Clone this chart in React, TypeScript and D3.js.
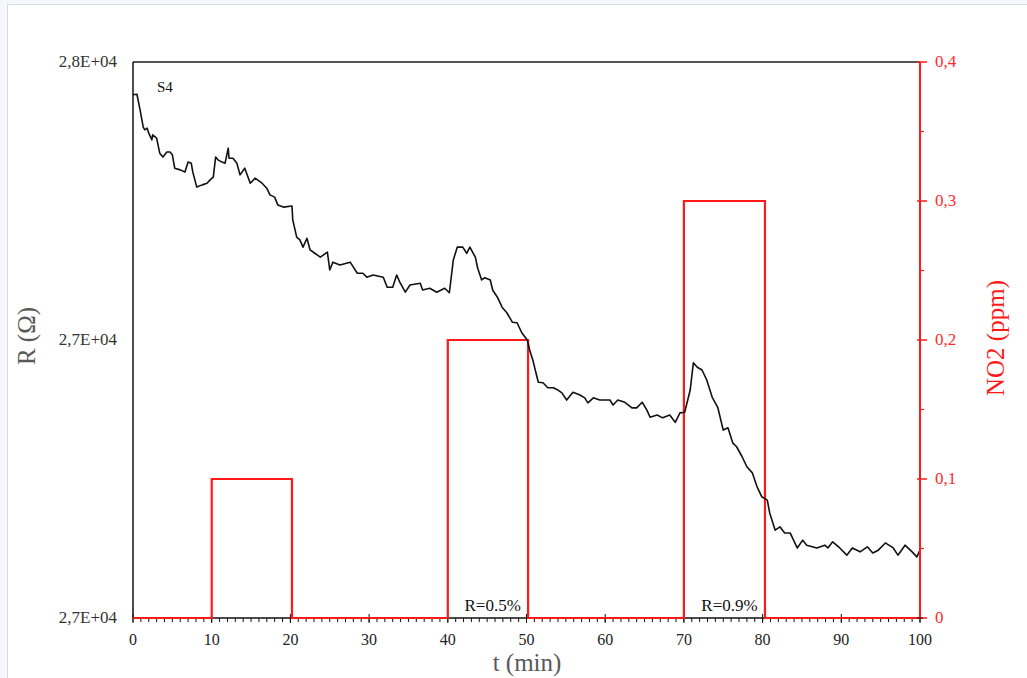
import React from 'react';
import * as d3 from 'd3';

// resistance of sample S4 (ohm) against time (min)
const timeR = [0, 0.5, 0.9, 1.3, 1.5, 1.8, 2.0, 2.4, 2.5, 3.0, 3.4, 3.8, 4.3, 4.7, 5.0, 5.3, 6.0, 6.6, 7.0, 7.4, 7.6, 8.1, 8.8, 9.4, 9.8, 10.2, 10.5, 10.8, 11.3, 11.7, 12.1, 12.2, 12.7, 13.2, 13.6, 14.2, 14.9, 15.5, 16.4, 17.0, 17.4, 18.0, 18.4, 19.1, 20.2, 20.3, 20.8, 21.2, 21.6, 22.1, 22.5, 23.1, 23.8, 24.7, 25.0, 25.4, 26.3, 27.6, 28.0, 28.5, 29.2, 29.7, 30.5, 31.8, 32.3, 33.0, 33.5, 33.9, 34.6, 35.2, 36.5, 36.8, 37.7, 38.6, 39.6, 40.2, 40.7, 41.2, 41.9, 42.4, 42.8, 43.5, 43.8, 44.3, 44.7, 45.4, 45.7, 46.3, 46.9, 47.5, 48.2, 48.8, 49.4, 50.1, 50.4, 50.8, 51.5, 52.1, 52.7, 53.4, 54.0, 54.5, 55.1, 55.9, 56.8, 57.4, 57.8, 58.5, 59.3, 60.6, 61.0, 61.6, 62.5, 63.4, 64.0, 64.7, 65.3, 65.7, 66.6, 67.3, 68.2, 68.9, 69.5, 70.1, 70.8, 71.2, 71.7, 72.3, 72.9, 73.6, 74.3, 75.0, 75.6, 76.2, 76.7, 77.4, 78.0, 78.7, 79.3, 79.9, 80.6, 80.9, 81.6, 82.2, 82.8, 83.5, 84.4, 85.1, 85.6, 86.9, 87.9, 88.3, 88.9, 89.8, 90.7, 91.4, 92.4, 93.3, 94.0, 94.7, 95.6, 96.6, 97.2, 98.1, 99.0, 99.6, 100];
const resistance = [27941, 27942, 27914, 27883, 27878, 27881, 27872, 27860, 27869, 27863, 27836, 27829, 27838, 27838, 27833, 27809, 27806, 27802, 27820, 27818, 27802, 27775, 27779, 27782, 27788, 27793, 27829, 27824, 27820, 27818, 27845, 27827, 27827, 27818, 27797, 27809, 27782, 27791, 27782, 27773, 27761, 27757, 27743, 27739, 27741, 27716, 27685, 27680, 27667, 27683, 27662, 27656, 27649, 27658, 27626, 27640, 27635, 27640, 27631, 27620, 27620, 27613, 27617, 27613, 27595, 27595, 27617, 27604, 27586, 27599, 27602, 27590, 27593, 27586, 27593, 27585, 27644, 27667, 27667, 27656, 27667, 27649, 27629, 27608, 27612, 27608, 27590, 27577, 27559, 27549, 27532, 27531, 27513, 27500, 27482, 27464, 27424, 27423, 27414, 27414, 27410, 27405, 27392, 27406, 27401, 27396, 27387, 27396, 27392, 27392, 27383, 27392, 27388, 27378, 27378, 27388, 27374, 27361, 27365, 27360, 27365, 27352, 27369, 27370, 27410, 27459, 27451, 27446, 27428, 27397, 27379, 27338, 27342, 27315, 27308, 27290, 27272, 27261, 27236, 27218, 27212, 27189, 27158, 27164, 27153, 27153, 27126, 27140, 27131, 27126, 27131, 27126, 27137, 27126, 27113, 27126, 27119, 27128, 27117, 27122, 27135, 27126, 27113, 27131, 27119, 27110, 27122];

// NO2 pulses (ppm)
const timeGas = [0, 10, 10, 20.2, 20.2, 40, 40, 50.2, 50.2, 70, 70, 80.3, 80.3, 100];
const no2 = [0, 0, 0.1, 0.1, 0, 0, 0.2, 0.2, 0, 0, 0.3, 0.3, 0, 0];

const leftTicks = [27000, 27500, 28000];
const leftTickLabels = ['2,7E+04', '2,7E+04', '2,8E+04'];
const rightTicks = [0, 0.1, 0.2, 0.3, 0.4];
const rightTickLabels = ['0', '0,1', '0,2', '0,3', '0,4'];
const rightMinor = [0.05, 0.15, 0.25, 0.35];
const xTicks = [0, 10, 20, 30, 40, 50, 60, 70, 80, 90, 100];
const xMinor = d3.range(0, 101, 1);

const notes = [
  { t: 45.7, label: 'R=0.5%' },
  { t: 75.8, label: 'R=0.9%' },
];

export default function App() {
  const W = 1027;
  const H = 678;
  const left = 133, right = 920, top = 62, bottom = 618;

  const x = d3.scaleLinear().domain([0, 100]).range([left, right]);
  const yR = d3.scaleLinear().domain([27000, 28000]).range([bottom, top]);
  const yG = d3.scaleLinear().domain([0, 0.4]).range([bottom, top]);

  const rLine = d3.line<number>()
    .x((_, i) => x(timeR[i]))
    .y((d) => yR(d));
  const gLine = d3.line<number>()
    .x((_, i) => x(timeGas[i]))
    .y((d) => yG(d));

  const serif = '"Liberation Serif", "Times New Roman", serif';

  return (
    <svg width={W} height={H} style={{ position: 'absolute', left: 0, top: 0 }} fontFamily={serif}>
      <rect x={0} y={0} width={W} height={H} fill="#f4f7fb" />
      <rect x={7.5} y={4.5} width={W} height={H} fill="#fff" stroke="#d9d9d9" />

      {/* frame */}
      <line x1={left} x2={right} y1={top} y2={top} stroke="#555" strokeWidth={2} />
      <line x1={left} x2={left} y1={top} y2={bottom} stroke="#111" strokeWidth={1.5} />
      <line x1={left} x2={right} y1={bottom} y2={bottom} stroke="#111" strokeWidth={1.5} />

      {/* x axis ticks */}
      {xMinor.map((t) => (
        <line key={'m' + t} x1={x(t)} x2={x(t)} y1={bottom} y2={bottom + 4} stroke="#111" strokeWidth={1} />
      ))}
      {xTicks.map((t) => (
        <g key={'x' + t}>
          <line x1={x(t)} x2={x(t)} y1={bottom - 4} y2={bottom + 5} stroke="#111" strokeWidth={1} />
          <text x={x(t)} y={645} textAnchor="middle" fontSize={16} fill="#222">{t}</text>
        </g>
      ))}

      {/* left axis labels */}
      {leftTicks.map((v, i) => (
        <text key={'l' + i} x={117} y={yR(v) + 5} textAnchor="end" fontSize={17} fill="#333">{leftTickLabels[i]}</text>
      ))}

      {/* gas pulses */}
      <path d={gLine(no2) || ''} fill="none" stroke="#ff1a1a" strokeWidth={2.2} />

      {/* resistance */}
      <path d={rLine(resistance) || ''} fill="none" stroke="#111" strokeWidth={1.6} strokeLinejoin="round" />

      {/* right axis */}
      <line x1={right} x2={right} y1={top} y2={bottom} stroke="#ff1a1a" strokeWidth={2} />
      {rightTicks.map((v, i) => (
        <g key={'r' + i}>
          <line x1={right - 3} x2={right + 7} y1={yG(v)} y2={yG(v)} stroke="#ff1a1a" strokeWidth={1.5} />
          <text x={935} y={yG(v) + 5} fontSize={17} fill="#ff2a2a">{rightTickLabels[i]}</text>
        </g>
      ))}
      {rightMinor.map((v) => (
        <line key={'rm' + v} x1={right} x2={right + 4} y1={yG(v)} y2={yG(v)} stroke="#ff1a1a" strokeWidth={1.2} />
      ))}
      <line x1={right - 3} x2={right + 3} y1={bottom} y2={bottom} stroke="#111" strokeWidth={1} />

      {/* annotations */}
      <text x={157} y={92} fontSize={15} fill="#111">S4</text>
      {notes.map((n) => (
        <text key={n.label} x={x(n.t)} y={611} textAnchor="middle" fontSize={17} fill="#111">{n.label}</text>
      ))}

      {/* titles */}
      <text x={527} y={671} textAnchor="middle" fontSize={25} fill="#595959">t (min)</text>
      <text transform="translate(35,336) rotate(-90)" textAnchor="middle" fontSize={25} fill="#595959">R (Ω)</text>
      <text transform="translate(1004,338) rotate(-90)" textAnchor="middle" fontSize={25} fill="#ff1a1a">NO2 (ppm)</text>
    </svg>
  );
}
